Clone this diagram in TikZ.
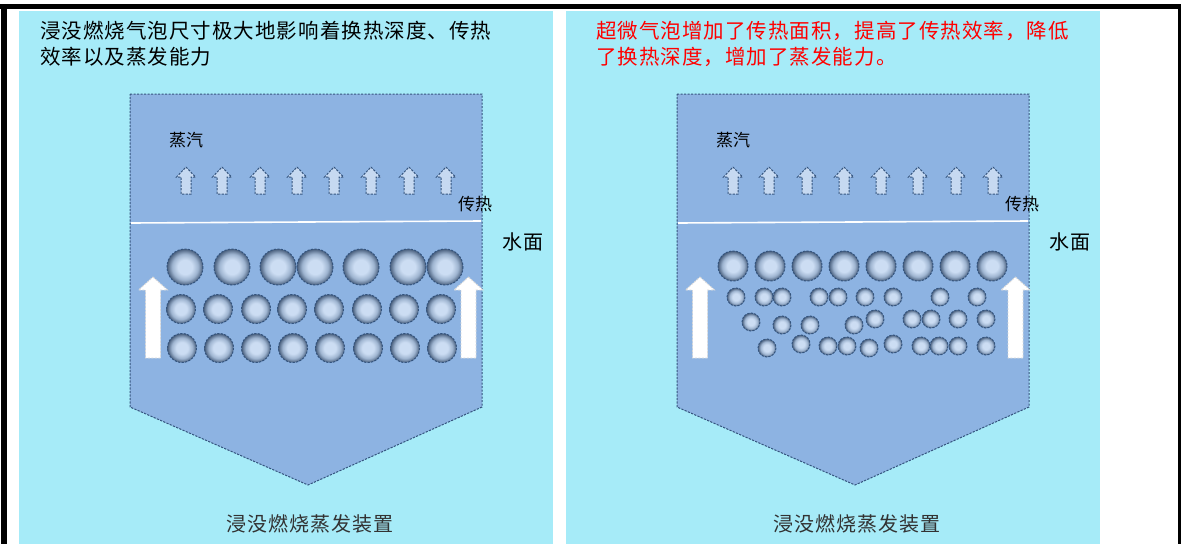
\documentclass[tikz,border=0pt]{standalone}
\usepackage{fontspec}
\newfontfamily\cjk{Noto Sans CJK SC}
\newfontfamily\cjkwide[LetterSpace=5]{Noto Sans CJK SC}
\definecolor{panelbg}{RGB}{166,235,248}
\definecolor{vesselbg}{RGB}{141,179,226}
\definecolor{edgeblue}{RGB}{52,84,126}
\definecolor{steamfill}{RGB}{198,217,241}
\definecolor{bubA}{RGB}{204,221,243}
\definecolor{bubB}{RGB}{158,180,208}
\definecolor{bubC}{RGB}{72,94,124}
\definecolor{labelgray}{RGB}{50,50,50}
\pgfdeclareradialshading{bubble}{\pgfpoint{0bp}{0bp}}{color(0bp)=(bubA); color(10bp)=(bubA); color(18bp)=(bubB); color(25bp)=(bubC); color(50bp)=(bubC)}
\tikzset{
  dashedge/.style={draw=edgeblue, dash pattern=on 2.2pt off 1.3pt, line width=1pt},
  bub/.style={shading=bubble, dashedge},
  steamarrow/.pic={
    \path[fill=steamfill, dashedge]
      (0,0) -- (9.5,10) -- (5,10) -- (5,27) -- (-5,27) -- (-5,10) -- (-9.5,10) -- cycle;
  },
  flowarrow/.pic={
    \path[fill=white, draw=white!70!gray, dash pattern=on 2.2pt off 1.3pt, line width=0.9pt]
      (0,0) -- (14.5,13) -- (7.5,13) -- (7.5,81) -- (-7.5,81) -- (-7.5,13) -- (-14.5,13) -- cycle;
  },
  titletext/.style={anchor=base west, inner sep=0pt, font=\cjkwide\fontsize{20.5}{24}\selectfont},
  smalllabel/.style={anchor=base west, inner sep=0pt, font=\cjk\fontsize{17}{20}\selectfont},
  surfacelabel/.style={anchor=base west, inner sep=0pt, font=\cjkwide\fontsize{20}{22}\selectfont},
  devicelabel/.style={anchor=base, inner sep=0pt, text=labelgray, font=\cjkwide\fontsize{20}{22}\selectfont},
}
% vessel, water surface, steam arrows, circulation arrows and labels of one panel
\newcommand{\vesselpanel}[2]{%
  \begin{scope}[xshift=#1]
    \fill[panelbg] (19,11) rectangle (553,544);
    \path[fill=vesselbg, dashedge]
      (130,94) -- (482,94) -- (482,407) -- (308,485) -- (130,407) -- cycle;
    \draw[white, line width=1.6pt] (131,223) -- (481,221);
    \foreach \sx in {186,222,260,297,334,371,409,446}
      \pic at (\sx,167) {steamarrow};
    \pic at (153,277) {flowarrow};
    \pic at (468.5,277) {flowarrow};
    \node[smalllabel] (#2steam) at (169,146) {蒸汽};
    \node[smalllabel] (#2heat) at (458,210) {传热};
    \node[surfacelabel] (#2surface) at (502,249) {水面};
    \node[devicelabel] (#2device) at (310,531) {浸没燃烧蒸发装置};
  \end{scope}%
}
\begin{document}
\begin{tikzpicture}[x=1pt,y=-1pt]
  \useasboundingbox (0,0) rectangle (1181,544);
  \fill[white] (0,0) rectangle (1181,544);
  % outer frame
  \fill[black] (0,4) rectangle (1181,8.5);
  \fill[black] (1,4) rectangle (7,544);
  \fill[black] (1178,4) rectangle (1181,544);

  % left panel: large bubbles
  \vesselpanel{0}{L}
  \node[titletext] (Ltitlea) at (40,38) {浸没燃烧气泡尺寸极大地影响着换热深度、传热};
  \node[titletext] (Ltitleb) at (40,64) {效率以及蒸发能力};
  \foreach \bx in {185,232,278,315,361,408,445}
    \path[bub] (\bx,267) circle (18);
  \foreach \bx in {181,218,256,292,329,367,404,441}
    \path[bub] (\bx,309) circle (14.5);
  \foreach \bx in {182,219,256,293,330,368,405,442}
    \path[bub] (\bx,348) circle (14.5);

  % right panel: ultrafine bubbles
  \vesselpanel{547}{R}
  \node[titletext, text=red] (Rtitlea) at (596,38) {超微气泡增加了传热面积，提高了传热效率，降低};
  \node[titletext, text=red] (Rtitleb) at (596,64) {了换热深度，增加了蒸发能力。};
  \foreach \bx in {733,770,807,844,881,918,955,992}
    \path[bub] (\bx,266) circle (15);
  \foreach \bx in {736,764,782,819,838,865,893,940,977}
    \path[bub] (\bx,297) circle (9);
  \foreach \bx/\by in {751/322,782/325,810/325,854/325,875/319,912/319,931/319,958/319,986/319}
    \path[bub] (\bx,\by) circle (9);
  \foreach \bx/\by in {767/348,801/344,828/346,847/346,869/348,893/344,921/346,939/346,958/346,986/346}
    \path[bub] (\bx,\by) circle (9);
\end{tikzpicture}
\end{document}
